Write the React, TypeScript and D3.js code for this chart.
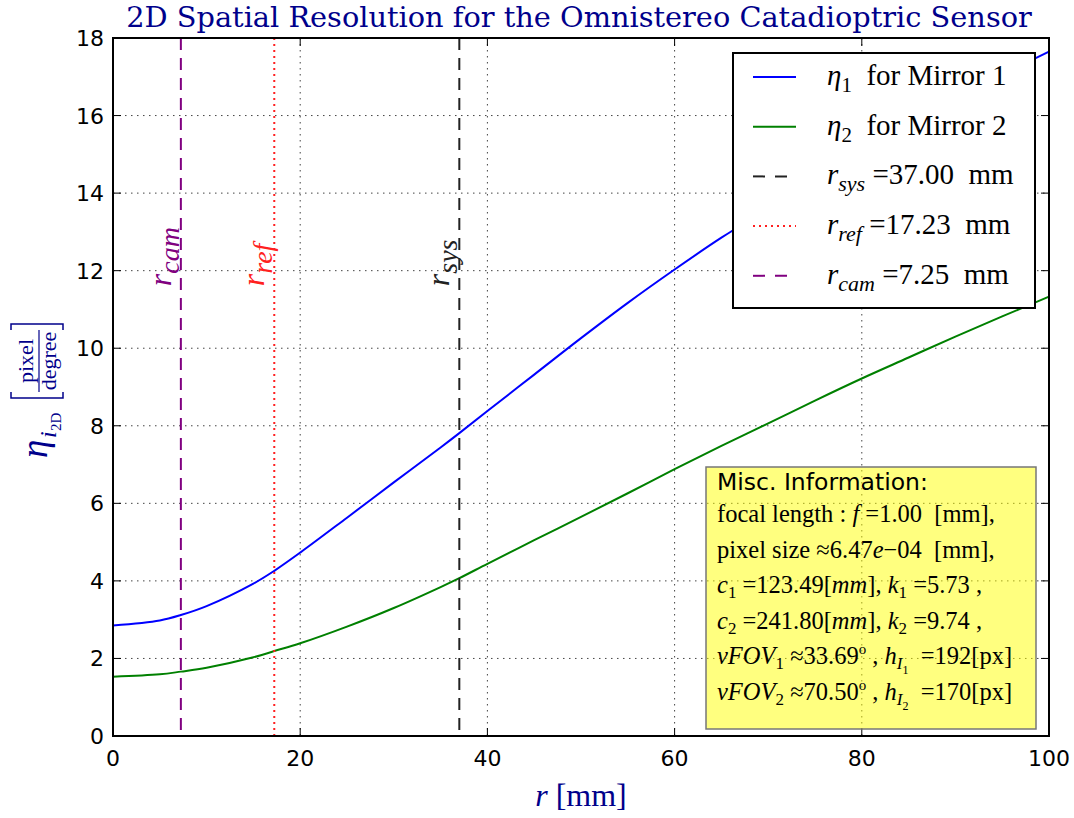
import React from 'react';
import * as d3 from 'd3';

// Radial distance on the sensor plane [mm]
const rValues = [0, 5, 7.25, 10, 15, 17.23, 20, 25, 30, 35, 37, 40, 45, 50, 55, 60, 65, 70, 75, 80, 85, 90, 95, 100];
// 2D spatial resolution for each mirror [pixel/degree]
const eta1 = [2.85, 2.98, 3.12, 3.35, 3.93, 4.26, 4.73, 5.63, 6.54, 7.44, 7.81, 8.38, 9.32, 10.26, 11.17, 12.03, 12.85, 13.6, 14.35, 15.05, 15.75, 16.4, 17.05, 17.65];
const eta2 = [1.53, 1.59, 1.66, 1.76, 2.03, 2.19, 2.39, 2.82, 3.3, 3.84, 4.07, 4.44, 5.05, 5.65, 6.26, 6.88, 7.48, 8.06, 8.65, 9.22, 9.76, 10.3, 10.82, 11.33];

// Reference radii
const rSys = 37.0;
const rRef = 17.23;
const rCam = 7.25;

const xTicks = [0, 20, 40, 60, 80, 100];
const yTicks = [0, 2, 4, 6, 8, 10, 12, 14, 16, 18];

const W = 1074;
const H = 818;
const L = 113, R = 1049, T = 38, B = 736;

const SERIF = "'Liberation Serif', 'Times New Roman', serif";
const SANS = "'DejaVu Sans', sans-serif";
const NAVY = '#00008b';

type Seg = { t: string; i?: boolean; s?: number; sh?: number };

function Rich({ segs, size }: { segs: Seg[]; size: number }) {
  let prev = 0;
  return (
    <>
      {segs.map((sg, k) => {
        const sh = sg.sh ?? 0;
        const dy = sh - prev;
        prev = sh;
        return (
          <tspan key={k} dy={dy} fontStyle={sg.i ? 'italic' : 'normal'} fontSize={sg.s ?? size}>
            {sg.t}
          </tspan>
        );
      })}
    </>
  );
}

export default function App() {
  const x = d3.scaleLinear().domain([0, 100]).range([L, R]);
  const y = d3.scaleLinear().domain([0, 18]).range([B, T]);

  const line = d3
    .line<number>()
    .x((_, i) => x(rValues[i]))
    .y((d) => y(d))
    .curve(d3.curveCatmullRom.alpha(0.5));

  const vLines = [
    { r: rCam, color: '#800080', dash: '12,8', sub: 'cam' },
    { r: rRef, color: '#ff2020', dash: '2,4', sub: 'ref' },
    { r: rSys, color: '#222222', dash: '12,8', sub: 'sys' },
  ];

  const legendRows: { color: string; dash?: string; segs: Seg[] }[] = [
    { color: '#0000ff', segs: [{ t: 'η', i: true }, { t: '1', s: 21, sh: 7 }, { t: '  for Mirror 1', sh: 0 }] },
    { color: '#008000', segs: [{ t: 'η', i: true }, { t: '2', s: 21, sh: 7 }, { t: '  for Mirror 2', sh: 0 }] },
    { color: '#222222', dash: '12,10', segs: [{ t: 'r', i: true }, { t: 'sys', i: true, s: 22, sh: 7 }, { t: ' =37.00  mm', sh: 0 }] },
    { color: '#ff2020', dash: '2,4', segs: [{ t: 'r', i: true }, { t: 'ref', i: true, s: 22, sh: 7 }, { t: ' =17.23  mm', sh: 0 }] },
    { color: '#800080', dash: '12,10', segs: [{ t: 'r', i: true }, { t: 'cam', i: true, s: 22, sh: 7 }, { t: ' =7.25  mm', sh: 0 }] },
  ];

  const miscRows: Seg[][] = [
    [{ t: 'focal length' }, { t: ' : ' }, { t: 'f', i: true }, { t: ' =1.00  [mm],' }],
    [{ t: 'pixel size ≈6.47' }, { t: 'e', i: true }, { t: '−04  [mm],' }],
    [{ t: 'c', i: true }, { t: '1', s: 17, sh: 5 }, { t: ' =123.49[', sh: 0 }, { t: 'mm', i: true }, { t: '], ' }, { t: 'k', i: true }, { t: '1', s: 17, sh: 5 }, { t: ' =5.73 ,', sh: 0 }],
    [{ t: 'c', i: true }, { t: '2', s: 17, sh: 5 }, { t: ' =241.80[', sh: 0 }, { t: 'mm', i: true }, { t: '], ' }, { t: 'k', i: true }, { t: '2', s: 17, sh: 5 }, { t: ' =9.74 ,', sh: 0 }],
    [{ t: 'vFOV', i: true }, { t: '1', s: 17, sh: 5 }, { t: ' ≈33.69', sh: 0 }, { t: 'o', s: 15, sh: -10 }, { t: ' , ', sh: 0 }, { t: 'h', i: true }, { t: 'I', i: true, s: 17, sh: 5 }, { t: '1', s: 12, sh: 10 }, { t: '  =192[px]', sh: 0 }],
    [{ t: 'vFOV', i: true }, { t: '2', s: 17, sh: 5 }, { t: ' ≈70.50', sh: 0 }, { t: 'o', s: 15, sh: -10 }, { t: ' , ', sh: 0 }, { t: 'h', i: true }, { t: 'I', i: true, s: 17, sh: 5 }, { t: '2', s: 12, sh: 10 }, { t: '  =170[px]', sh: 0 }],
  ];

  const labelY = y(11.6);

  return (
    <svg width={W} height={H} style={{ position: 'absolute', left: 0, top: 0, background: '#fff' }}>
      <rect x={0} y={0} width={W} height={H} fill="#fff" />

      {/* title */}
      <text x={(L + R) / 2 - 2} y={27} textAnchor="middle" fontFamily="'DejaVu Serif', serif" fontSize={28.8} fill={NAVY}>
        2D Spatial Resolution for the Omnistereo Catadioptric Sensor
      </text>

      {/* grid */}
      <g stroke="#444" strokeWidth={1} strokeDasharray="1.5,4.5">
        {xTicks.filter((t) => t > 0 && t < 100).map((t) => (
          <line key={'gx' + t} x1={x(t)} x2={x(t)} y1={T} y2={B} />
        ))}
        {yTicks.filter((t) => t > 0 && t < 18).map((t) => (
          <line key={'gy' + t} x1={L} x2={R} y1={y(t)} y2={y(t)} />
        ))}
      </g>

      {/* curves */}
      <path d={line(eta1) ?? ''} fill="none" stroke="#0000ff" strokeWidth={2} />
      <path d={line(eta2) ?? ''} fill="none" stroke="#008000" strokeWidth={2} />

      {/* reference radii */}
      {vLines.map((v) => (
        <g key={v.sub}>
          <line x1={x(v.r)} x2={x(v.r)} y1={T} y2={B} stroke={v.color} strokeWidth={2} strokeDasharray={v.dash} />
          <text
            transform={`translate(${x(v.r) - 10},${labelY}) rotate(-90)`}
            fontFamily={SERIF}
            fill={v.color}
            fontSize={32}
            style={{ whiteSpace: 'pre' }}
          >
            <Rich size={32} segs={[{ t: 'r', i: true }, { t: v.sub, i: true, s: 28, sh: 8 }]} />
          </text>
        </g>
      ))}

      {/* ticks */}
      <g stroke="#000" strokeWidth={1}>
        {xTicks.map((t) => (
          <g key={'tx' + t}>
            <line x1={x(t)} x2={x(t)} y1={B} y2={B - 8} />
            <line x1={x(t)} x2={x(t)} y1={T} y2={T + 8} />
          </g>
        ))}
        {yTicks.map((t) => (
          <g key={'ty' + t}>
            <line x1={L} x2={L + 8} y1={y(t)} y2={y(t)} />
            <line x1={R} x2={R - 8} y1={y(t)} y2={y(t)} />
          </g>
        ))}
      </g>

      {/* tick labels */}
      <g fontFamily={SANS} fontSize={22} fill="#000">
        {xTicks.map((t) => (
          <text key={'lx' + t} x={x(t)} y={B + 30} textAnchor="middle">
            {t}
          </text>
        ))}
        {yTicks.map((t) => (
          <text key={'ly' + t} x={L - 9} y={y(t) + 8} textAnchor="end">
            {t}
          </text>
        ))}
      </g>

      {/* misc information box */}
      <g>
        <rect x={706} y={467} width={330} height={262} fill="#ffff00" fillOpacity={0.5} stroke="#777" strokeWidth={1.5} />
        <text x={717} y={490} fontFamily={SANS} fontSize={23.5} fill="#000">
          Misc. Information:
        </text>
        {miscRows.map((row, k) => (
          <text key={'m' + k} x={717} y={522 + 35.6 * k} fontFamily={SERIF} fontSize={24.5} fill="#000" style={{ whiteSpace: 'pre' }}>
            <Rich size={24.5} segs={row} />
          </text>
        ))}
      </g>

      {/* frame */}
      <rect x={L} y={T} width={R - L} height={B - T} fill="none" stroke="#000" strokeWidth={2} />

      {/* legend */}
      <g>
        <rect x={733} y={53} width={302} height={255} fill="#fff" stroke="#000" strokeWidth={2} />
        {legendRows.map((row, k) => {
          const ly = 77 + 49.7 * k;
          return (
            <g key={'lg' + k}>
              <line x1={753} x2={796} y1={ly} y2={ly} stroke={row.color} strokeWidth={2} strokeDasharray={row.dash} />
              <text x={827} y={ly + 8} fontFamily={SERIF} fontSize={29} fill="#000" style={{ whiteSpace: 'pre' }}>
                <Rich size={29} segs={row.segs} />
              </text>
            </g>
          );
        })}
      </g>

      {/* x axis label */}
      <text x={(L + R) / 2} y={806} textAnchor="middle" fontFamily={SERIF} fontSize={32} fill={NAVY} style={{ whiteSpace: 'pre' }}>
        <tspan fontStyle="italic">r</tspan>
        <tspan> [mm]</tspan>
      </text>

      {/* y axis label */}
      <g transform="translate(47,458) rotate(-90)" fill={NAVY} fontFamily={SERIF}>
        <text x={0} y={0} fontSize={37} fontStyle="italic">η</text>
        <text x={20} y={9} fontSize={24} fontStyle="italic">i</text>
        <text x={27} y={14} fontSize={15}>2D</text>
        <path d="M 66 -36 L 60 -36 L 60 16 L 66 16" fill="none" stroke={NAVY} strokeWidth={1.5} />
        <text x={97} y={-14} fontSize={22} textAnchor="middle">pixel</text>
        <line x1={66} x2={128} y1={-8} y2={-8} stroke={NAVY} strokeWidth={1.2} />
        <text x={97} y={9} fontSize={22} textAnchor="middle">degree</text>
        <path d="M 128 -36 L 134 -36 L 134 16 L 128 16" fill="none" stroke={NAVY} strokeWidth={1.5} />
      </g>
    </svg>
  );
}
